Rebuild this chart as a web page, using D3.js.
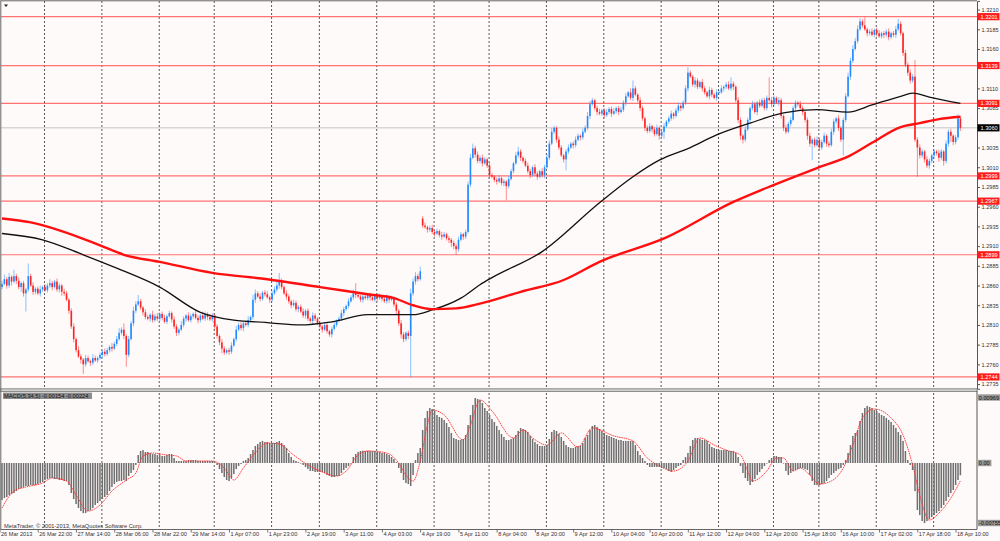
<!DOCTYPE html>
<html>
<head lang="en">
  <meta charset="UTF-8">
  <title>EURUSD H1 - MetaTrader</title>
  <script src="https://cdn.jsdelivr.net/npm/d3@7"></script>
  <style>
    body { margin: 0; background: #fffafa; }
    #chart text { font-family: "Liberation Sans", Arial, sans-serif; }
  </style>
</head>
<body>

<svg id="chart" width="1000" height="541"></svg>

<script>
  // Prices are kept in pips above basePrice
  var basePrice = 1.27;
  var firstOpen = 158;

  var closes = [
    162, 168, 160, 171, 165, 172, 166, 158, 163, 150,
    155, 172, 160, 152, 156, 150, 155, 158, 154, 160,
    163, 158, 165, 155, 160, 152, 150, 142, 128, 108,
    92, 78, 70, 66, 60, 68, 64, 62, 68, 65,
    68, 72, 76, 73, 78, 82, 80, 86, 92, 100,
    104, 96, 72, 92, 112, 128, 136, 140, 132, 126,
    120, 118, 123, 116, 121, 118, 124, 119, 114, 121,
    125, 117, 108, 100, 104, 110, 118, 122, 116, 121,
    124, 119, 116, 122, 118, 124, 120, 117, 122, 108,
    96, 88, 80, 75, 78, 76, 84, 92, 104, 110,
    106, 112, 110, 116, 120, 142, 150, 146, 143, 151,
    149, 145, 142, 150, 155, 160, 166, 158, 150, 146,
    140, 135, 138, 130, 133, 127, 122, 128, 118, 115,
    122, 118, 112, 108, 104, 110, 102, 98, 105, 110,
    115, 118, 125, 130, 134, 140, 145, 150, 148, 146,
    142, 146, 144, 148, 145, 142, 147, 144, 146, 143,
    140, 145, 142, 144, 136, 128, 112, 98, 92, 100,
    96, 150, 165, 172, 168, 178, 236, 234, 231, 233,
    228, 226, 229, 224, 222, 225, 220, 218, 214, 210,
    206, 218, 225, 222, 228, 288, 322, 334, 326, 318,
    322, 315, 320, 312, 300, 298, 294, 292, 296, 290,
    292, 286, 295, 305, 315, 325, 330, 322, 318, 312,
    305, 300, 310, 302, 298, 305, 300, 310, 322, 340,
    355, 360, 345, 335, 325, 320, 330, 335, 340, 338,
    345, 350, 348, 355, 360, 375, 390, 395, 385, 380,
    378, 382, 376, 380, 384, 378, 381, 385, 380, 383,
    392, 400, 405, 398, 410, 402, 395, 385, 372, 360,
    356, 362, 358, 352, 360, 350, 355, 362, 368, 372,
    378, 375, 382, 388, 385, 392, 410, 430, 425, 415,
    420, 412, 418, 410, 405, 400, 408, 402, 398, 405,
    405, 410, 412, 415, 410, 416, 412, 395, 370, 350,
    345, 358, 370, 385, 390, 380, 392, 388, 395, 385,
    398, 395, 390, 398, 392, 395, 375, 360, 355, 365,
    370, 385, 392, 390, 385, 380, 370, 350, 340, 345,
    338, 345, 335, 342, 350, 340, 338, 355, 368, 372,
    360, 345, 370, 400, 425, 445, 460, 470, 485, 495,
    490, 485, 480, 482, 478, 484, 480, 476, 480, 478,
    482, 475, 480, 478, 485, 492, 480, 455, 440, 430,
    420, 425, 345, 335, 325, 330, 320, 312, 318, 325,
    330, 328, 322, 330, 318, 340, 355, 350, 342, 348,
    372, 360
  ];

  // wick length beyond the body, pips
  var wickHi = [
    4,6,3,5,2,8,3,4,2,3, 2,16,3,4,2,3,5,2,4,3, 5,3,2,4,3,2,4,3,2,3, 4,2,5,3,2,4,3,2,5,3,
    2,3,2,4,3,2,5,3,4,6, 3,8,2,4,3,5,4,8,3,2, 4,3,2,5,3,4,2,3,4,2, 3,2,4,3,2,5,3,2,4,3,
    2,4,3,2,5,3,2,4,3,2, 3,2,4,3,2,3,4,2,5,3, 4,2,3,5,2,6,5,3,4,2, 3,4,2,3,4,5,10,3,2,4,
    3,2,4,3,2,3,4,2,3,2, 4,3,2,3,2,4,3,2,3,4, 2,3,4,3,2,4,3,5,13,3, 2,4,3,2,3,4,2,3,4,2,
    3,4,2,3,2,3,2,4,3,2, 3,6,4,5,3,6,3,4,2,3, 4,2,3,2,4,3,2,3,2,3, 3,4,3,2,3,4,5,6,3,4,
    3,4,3,2,4,3,2,3,4,2, 3,2,4,3,2,4,6,3,2,3, 4,3,2,4,3,2,4,3,5,4, 5,3,2,4,3,2,3,4,2,3,
    4,3,2,4,3,5,4,3,2,3, 4,2,3,4,2,3,4,2,3,4, 3,4,2,5,10,3,2,4,3,2, 3,4,2,3,4,2,3,4,2,3,
    4,2,3,4,2,3,4,7,3,2, 4,3,2,4,3,2,4,3,2,4, 3,4,2,3,4,8,3,2,4,3, 2,4,3,2,4,3,2,4,3,3,
    3,26,4,3,2,4,3,2,4,3, 4,3,3,2,4,3,2,3,4,2, 3,4,2,3,4,2,3,4,3,2, 4,2,3,4,5,4,5,4,5,4,
    3,10,2,3,4,2,3,4,2,3, 3,4,2,3,4,6,3,2,4,3, 4,3,21,3,4,3,2,4,3,2, 3,2,4,3,2,4,3,4,2,3,
    5,3
  ];
  var wickLo = [
    3,2,4,3,5,2,4,3,6,4, 23,3,2,4,3,2,4,3,2,3, 3,4,2,3,4,5,3,2,4,3, 4,3,2,5,12,3,2,4,3,2,
    3,2,4,3,2,3,4,2,3,2, 3,4,15,3,2,4,3,2,3,4, 3,2,4,3,2,3,4,3,2,3, 2,4,3,4,3,2,3,4,2,3,
    3,2,4,3,2,3,4,2,3,4, 3,4,6,3,2,4,3,2,3,2, 3,4,2,3,2,3,4,2,3,2, 3,2,4,3,2,3,4,3,2,4,
    3,4,2,3,4,2,3,4,3,2, 4,3,2,3,4,2,3,3,4,2, 3,2,3,4,2,3,2,3,4,2, 3,4,2,3,4,2,3,4,2,3,
    2,3,4,2,3,4,3,5,4,3, 4,52,3,4,3,2,3,2,4,3, 3,4,2,3,4,2,3,4,5,4, 7,3,2,4,3,2,3,2,4,3,
    3,4,2,3,4,2,3,4,2,3, 4,18,3,2,3,2,3,4,3,2, 3,4,2,3,4,2,3,4,2,3, 2,3,4,3,2,4,14,3,2,4,
    3,2,4,3,2,3,4,2,3,4, 2,3,4,2,3,4,2,3,4,2, 3,4,2,3,4,2,3,4,3,4, 3,2,4,3,2,5,3,9,2,3,
    3,4,2,3,4,2,3,4,2,3, 4,3,2,4,3,2,4,3,2,4, 3,2,4,3,2,3,4,3,4,5, 5,3,2,4,3,2,4,3,2,3,
    3,2,4,3,2,4,3,4,3,2, 3,2,4,3,2,4,3,5,4,21, 3,2,4,3,2,4,3,2,4,3, 4,3,20,3,2,4,3,2,3,2,
    3,2,4,3,2,3,4,2,3,4, 3,4,2,3,4,2,3,4,3,4, 4,3,3,37,4,3,4,3,4,3, 4,3,5,3,6,3,4,8,4,3,
    3,4
  ];
  var gapBars  = [176];
  var gapOpens = [245];

  // moving averages: [bar, pips]
  var maBlack = [[0,226],[17,218],[34,199],[48,182],[66,158],[83,126],[97,116],[111,113],
    [125,110],[138,114],[153,123],[172,123],[180,129],[192,144],[200,161],[205,170],
    [226,203],[250,265],[264,298],[275,319],[288,335],[299,351],[313,366],[327,379],
    [341,383],[354,380],[364,389],[376,400],[381,404],[388,399],[401,391]];
  var maRed = [[0,245],[12,240],[24,230],[41,211],[51,199],[66,190],[88,176],[111,168],
    [133,158],[153,149],[164,144],[172,135],[180,130],[190,131],[200,137],[217,152],
    [235,167],[250,190],[278,221],[306,266],[320,284],[341,309],[355,325],[364,341],
    [376,361],[384,366],[392,371],[401,374]];

  // MACD(5,34,5) histogram, units of 0.00001
  var macdHist = [
    -466,-441,-428,-403,-391,-378,-353,-328,-315,-302,
    -290,-290,-277,-277,-277,-265,-252,-239,-214,-202,
    -189,-189,-202,-202,-214,-214,-227,-227,-277,-378,
    -454,-517,-567,-605,-630,-630,-605,-592,-567,-529,
    -504,-479,-454,-428,-403,-353,-302,-265,-239,-227,
    -227,-214,-227,-164,-126,-88,-25,118,178,192,
    163,163,148,133,133,118,118,104,104,118,
    133,133,74,30,30,30,30,30,44,44,
    44,44,30,30,30,30,30,30,30,15,
    -25,-76,-126,-176,-214,-227,-189,-139,-76,-38,
    -13,30,44,74,133,192,252,281,311,326,
    311,311,296,296,296,311,326,296,266,222,
    148,89,44,30,15,0,-25,-50,-76,-101,
    -101,-113,-113,-113,-113,-126,-151,-164,-176,-176,
    -164,-164,-126,-88,-63,-38,0,89,133,163,
    178,182,176,180,178,174,176,163,166,148,
    148,133,118,89,59,15,-63,-126,-214,-252,
    -265,-290,-151,44,148,222,488,666,770,814,
    799,770,710,681,666,636,592,533,444,370,
    355,340,340,355,414,562,710,858,962,947,
    932,888,814,770,710,651,607,548,488,429,
    385,340,340,355,370,414,474,518,503,488,
    459,400,355,311,281,252,252,252,266,355,
    459,488,474,429,385,326,266,237,222,222,
    237,252,252,296,370,414,488,548,562,533,
    503,474,444,414,400,385,370,355,340,340,
    326,326,326,326,326,266,178,118,74,30,
    -25,-50,-50,-50,-50,-50,-63,-63,-76,-101,
    -113,-88,-63,-38,-25,44,89,148,252,340,
    370,370,355,340,340,326,281,237,222,207,
    192,192,192,192,178,178,178,148,89,-38,
    -126,-189,-227,-277,-239,-202,-151,-113,-76,-38,
    0,44,74,104,104,89,89,0,-101,-151,
    -126,-101,-88,-76,-63,-63,-76,-88,-151,-227,
    -277,-277,-277,-265,-252,-227,-189,-151,-126,-101,
    -76,-63,-25,44,148,266,400,444,488,622,
    740,814,844,829,814,784,770,740,710,696,
    666,636,607,562,518,459,414,326,178,44,
    -25,-88,-353,-592,-655,-731,-756,-731,-706,-680,
    -655,-630,-605,-567,-529,-479,-428,-378,-340,-277,
    -214,-154
  ];
  var macdSignal = [[0,-567],[5,-353],[10,-302],[17,-252],[21,-189],[27,-227],[31,-403],
    [36,-605],[41,-529],[46,-353],[52,-214],[56,-126],[59,104],[63,148],[69,118],[73,104],
    [77,30],[88,30],[93,-63],[97,-214],[101,-63],[107,192],[111,296],[116,281],[122,118],
    [128,-25],[133,-101],[140,-164],[144,-101],[149,118],[153,178],[161,148],[165,44],
    [170,-189],[172,-227],[175,30],[178,562],[180,784],[185,710],[193,340],[196,562],
    [200,932],[205,770],[214,370],[218,488],[222,370],[228,266],[234,444],[241,237],
    [247,518],[256,400],[264,326],[270,74],[275,-38],[281,-101],[287,30],[292,370],
    [298,266],[303,192],[309,118],[312,-101],[314,-227],[320,-101],[324,74],[327,74],
    [331,-101],[334,-63],[338,-151],[342,-265],[347,-227],[352,-63],[356,266],[360,666],
    [365,799],[372,666],[377,414],[381,-25],[384,-403],[388,-718],[392,-630],[397,-441],
    [401,-224]];

  // 1.3135 and 1.3060 sit under the price boxes in the original, so they are left out
  var priceTicks = [1.2735, 1.2760, 1.2785, 1.2810, 1.2835, 1.2860, 1.2885, 1.2910,
    1.2935, 1.2960, 1.2985, 1.3010, 1.3035, 1.3085, 1.3110, 1.3160,
    1.3185, 1.3210];
  var levels = [1.3201, 1.3139, 1.3091, 1.2999, 1.2967, 1.2899, 1.2744];
  var bidPrice = 1.3060;

  var timeLabels = ['26 Mar 2013', '26 Mar 22:00', '27 Mar 14:00', '28 Mar 06:00',
    '28 Mar 22:00', '29 Mar 14:00', '1 Apr 07:00', '1 Apr 23:00', '2 Apr 19:00',
    '3 Apr 11:00', '4 Apr 03:00', '4 Apr 19:00', '5 Apr 11:00', '8 Apr 04:00',
    '8 Apr 20:00', '9 Apr 12:00', '10 Apr 04:00', '10 Apr 20:00', '11 Apr 12:00',
    '12 Apr 04:00', '12 Apr 20:00', '15 Apr 18:00', '16 Apr 10:00', '17 Apr 02:00',
    '17 Apr 18:00', '18 Apr 10:00'];
  var labelEvery = 16;
  // bars where a new day starts (dotted separators)
  var dayBars = [18, 42, 66, 89, 113, 133, 157, 181, 204, 228, 252, 276, 300, 323, 342, 366, 390];

  var macdTicks  = [969, 0, -755];
  var macdLabels = ['0.00969', '0.00', '-0.00755'];

  // ------------------------------------------------------------------
  var svg = d3.select('#chart');
  var plotRight = 977;
  var mainTop = 0.9, mainBottom = 388.8;
  var subTop = 392, subBottom = 529.5;

  var x  = d3.scaleLinear().domain([0, closes.length - 1]).range([2, 960.4]);
  var y  = d3.scaleLinear().domain([1.2729, 1.3221]).range([mainBottom, mainTop]);
  var ym = d3.scaleLinear().domain([-755, 0, 969]).range([523, 463, 397.5]);

  function py(p) { return y(basePrice + p / 10000); }

  var candles = closes.map(function (c, i) {
    var g = gapBars.indexOf(i);
    var o = i === 0 ? firstOpen : (g >= 0 ? gapOpens[g] : closes[i - 1]);
    return { i: i, o: o, c: c,
      h: Math.max(o, c) + wickHi[i],
      l: Math.min(o, c) - wickLo[i] };
  });

  svg.append('rect').attr('width', 1000).attr('height', 541).attr('fill', '#fffafa');

  var defs = svg.append('defs');
  defs.append('clipPath').attr('id', 'mainClip').append('rect')
    .attr('x', 1).attr('y', 1).attr('width', plotRight - 1).attr('height', mainBottom - 1);

  // day separators
  svg.append('g').selectAll('line').data(dayBars).enter().append('line')
    .attr('x1', function (d) { return x(d) - 0.5; })
    .attr('x2', function (d) { return x(d) - 0.5; })
    .attr('y1', 1).attr('y2', subBottom)
    .attr('stroke', '#444').attr('stroke-width', 0.9)
    .attr('stroke-dasharray', '2,2');

  var main = svg.append('g').attr('clip-path', 'url(#mainClip)');

  // horizontal levels
  main.selectAll('line.level').data(levels).enter().append('line')
    .attr('class', 'level')
    .attr('x1', 1).attr('x2', plotRight)
    .attr('y1', function (d) { return y(d); })
    .attr('y2', function (d) { return y(d); })
    .attr('stroke', '#ff5a5a').attr('stroke-width', 1.2).attr('stroke-opacity', 0.85);

  main.append('line')
    .attr('x1', 1).attr('x2', plotRight)
    .attr('y1', y(bidPrice)).attr('y2', y(bidPrice))
    .attr('stroke', '#c4c4c4').attr('stroke-width', 1);

  // candles
  function candleColor(d) { return d.c >= d.o ? '#1f8bff' : '#ff2222'; }

  main.selectAll('line.wick').data(candles).enter().append('line')
    .attr('class', 'wick')
    .attr('x1', function (d) { return x(d.i); })
    .attr('x2', function (d) { return x(d.i); })
    .attr('y1', function (d) { return py(d.h); })
    .attr('y2', function (d) { return py(d.l); })
    .attr('stroke', candleColor).attr('stroke-width', 0.8).attr('stroke-opacity', 0.65);

  main.selectAll('rect.body').data(candles).enter().append('rect')
    .attr('class', 'body')
    .attr('x', function (d) { return x(d.i) - 0.8; })
    .attr('width', 1.6)
    .attr('y', function (d) { return py(Math.max(d.o, d.c)); })
    .attr('height', function (d) { return Math.max(0.8, Math.abs(py(d.o) - py(d.c))); })
    .attr('fill', candleColor);

  // moving averages
  var maLine = d3.line()
    .x(function (d) { return x(d[0]); })
    .y(function (d) { return py(d[1]); })
    .curve(d3.curveMonotoneX);

  main.append('path').datum(maBlack).attr('d', maLine)
    .attr('fill', 'none').attr('stroke', '#111').attr('stroke-width', 1.3);
  main.append('path').datum(maRed).attr('d', maLine)
    .attr('fill', 'none').attr('stroke', '#ff1010').attr('stroke-width', 2.4);

  // MACD window
  svg.append('g').selectAll('rect').data(macdHist).enter().append('rect')
    .attr('x', function (d, i) { return x(i) - 0.75; })
    .attr('width', 1.5)
    .attr('y', function (d) { return Math.min(ym(0), ym(d)); })
    .attr('height', function (d) { return Math.max(0.6, Math.abs(ym(d) - ym(0))); })
    .attr('fill', '#6f6f6f');

  var sigLine = d3.line()
    .x(function (d) { return x(d[0]); })
    .y(function (d) { return ym(d[1]); })
    .curve(d3.curveMonotoneX);

  svg.append('path').datum(macdSignal).attr('d', sigLine)
    .attr('fill', 'none').attr('stroke', '#ff3030').attr('stroke-width', 0.9)
    .attr('stroke-dasharray', '1.6,0.7');

  // window separator and frame
  svg.append('rect').attr('x', 0).attr('y', 388.8).attr('width', plotRight).attr('height', 2.8)
    .attr('fill', '#cfcfcf').attr('stroke', '#7a7a7a').attr('stroke-width', 0.8);
  svg.append('line').attr('x1', 0.5).attr('x2', plotRight).attr('y1', 0.8).attr('y2', 0.8)
    .attr('stroke', '#666').attr('stroke-width', 1);
  svg.append('line').attr('x1', 0.8).attr('x2', 0.8).attr('y1', 0.5).attr('y2', subBottom)
    .attr('stroke', '#666').attr('stroke-width', 1);
  svg.append('line').attr('x1', 0.5).attr('x2', plotRight).attr('y1', subBottom).attr('y2', subBottom)
    .attr('stroke', '#666').attr('stroke-width', 1);

  // little dropdown triangle at the corner
  svg.append('path').attr('d', 'M4,4.6 L8,4.6 L6,7 Z').attr('fill', '#222');

  // price axis
  var yAxis = d3.axisRight(y).tickValues(priceTicks).tickSize(3).tickPadding(1.5)
    .tickFormat(d3.format('.4f'));
  var ya = svg.append('g').attr('transform', 'translate(' + plotRight + ',0)').call(yAxis);
  ya.select('.domain').attr('stroke', '#555');
  ya.selectAll('.tick line').attr('stroke', '#555');
  ya.selectAll('.tick text').attr('font-size', 5.6).attr('fill', '#333')
    .attr('font-family', '"Liberation Sans", Arial, sans-serif');

  svg.append('line').attr('x1', plotRight).attr('x2', plotRight)
    .attr('y1', subTop - 1).attr('y2', subBottom).attr('stroke', '#555');

  function priceBox(value, fill, color) {
    var g = svg.append('g').attr('transform', 'translate(' + plotRight + ',' + y(value) + ')');
    g.append('rect').attr('x', 0.5).attr('y', -3.6).attr('width', 22).attr('height', 7.2).attr('fill', fill);
    g.append('text').attr('x', 3.5).attr('y', 2).attr('font-size', 5.6).attr('fill', color)
      .text(d3.format('.4f')(value));
  }
  levels.forEach(function (v) { priceBox(v, '#ff1c1c', '#fff'); });
  priceBox(bidPrice, '#000', '#fff');

  // MACD scale labels
  macdTicks.forEach(function (v, k) {
    var g = svg.append('g').attr('transform', 'translate(' + plotRight + ',' + ym(v) + ')');
    var w = macdLabels[k].length * 3.1 + 1;
    g.append('rect').attr('x', 1).attr('y', -3.2).attr('width', w).attr('height', 6.4).attr('fill', '#9a9a9a');
    g.append('text').attr('x', 1.8).attr('y', 2).attr('font-size', 5.6).attr('fill', '#111')
      .text(macdLabels[k]);
  });

  // time axis
  var tx = svg.append('g').selectAll('g').data(timeLabels).enter().append('g')
    .attr('transform', function (d, k) { return 'translate(' + x(k * labelEvery) + ',0)'; });
  tx.append('line').attr('x1', -2).attr('x2', -2).attr('y1', subBottom).attr('y2', subBottom + 3)
    .attr('stroke', '#555').attr('stroke-width', 0.8);
  tx.append('text').attr('x', -1).attr('y', 535.6).attr('font-size', 5.6).attr('fill', '#333')
    .text(function (d) { return d; });

  // indicator caption and copyright
  svg.append('rect').attr('x', 3).attr('y', 392.6).attr('width', 89).attr('height', 6.4).attr('fill', '#8c8c8c');
  svg.append('text').attr('x', 4).attr('y', 397.7).attr('font-size', 5.7).attr('fill', '#111')
    .text('MACD(5,34,5) -0.00154 -0.00224');
  svg.append('text').attr('x', 4).attr('y', 527.6).attr('font-size', 5.7).attr('fill', '#333')
    .text('MetaTrader, \u00a9 2001-2013, MetaQuotes Software Corp.');
</script>
</body>
</html>
